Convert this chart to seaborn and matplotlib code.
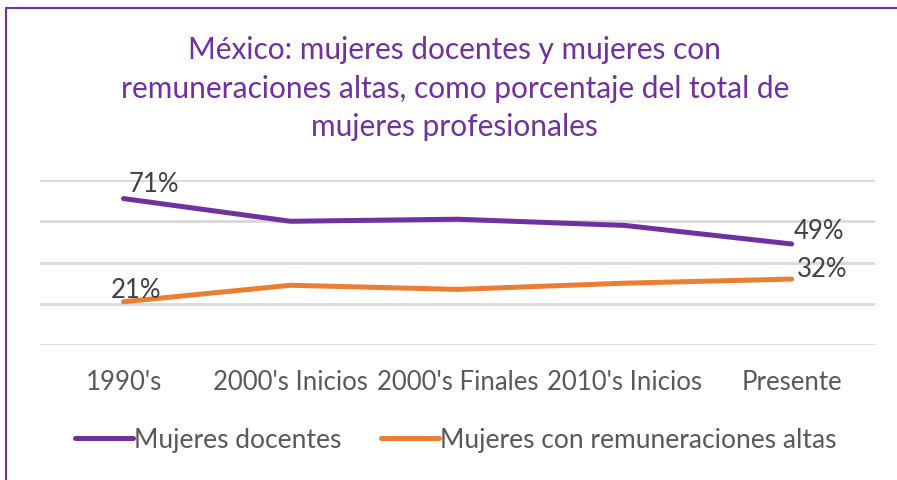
import numpy as np
import pandas as pd
import matplotlib.pyplot as plt
import seaborn as sns
from matplotlib.lines import Line2D

# data
periodos = ["1990's", "2000's Inicios", "2000's Finales", "2010's Inicios", "Presente"]
docentes = [71, 60, 61, 58, 49]
remuneraciones = [21, 29, 27, 30, 32]
series = ["Mujeres docentes", "Mujeres con remuneraciones altas"]

purple = "#7030A0"
orange = "#ED7D31"

sns.set_theme(style="white")
plt.rcParams['font.family'] = ['Lato', 'DejaVu Sans']

df = pd.DataFrame({"periodo": periodos * 2,
                   "valor": docentes + remuneraciones,
                   "serie": [series[0]] * 5 + [series[1]] * 5})

fig = plt.figure(figsize=(8.97, 4.8), dpi=100)
ax = fig.add_axes([0.0446, 0.281, 0.931, 0.344])

sns.lineplot(data=df, x="periodo", y="valor", hue="serie", sort=False,
             palette=[purple, orange], linewidth=3.6, ax=ax, legend=False)
for l in ax.lines:
    l.set_solid_capstyle("round")

ax.set_xlim(-0.5, 4.5)
ax.set_ylim(0, 80)
ax.set_yticks([0, 20, 40, 60, 80])
ax.yaxis.grid(True, color="#D9D9D9", linewidth=2)
ax.tick_params(axis='y', left=False, labelleft=False)
ax.tick_params(axis='x', labelsize=18.5, labelcolor="#595959", pad=18, length=0)
ax.set_xlabel("")
ax.set_ylabel("")
sns.despine(ax=ax, left=True, bottom=True)

# data labels
lab = dict(fontsize=18.5, color="#404040", textcoords="offset points")
ax.annotate("71%", (0, docentes[0]), xytext=(22, 1), ha="center", va="bottom", **lab)
ax.annotate("21%", (0, remuneraciones[0]), xytext=(9, -1), ha="center", va="bottom", **lab)
ax.annotate("49%", (4, docentes[4]), xytext=(20, 0), ha="center", va="bottom", **lab)
ax.annotate("32%", (4, remuneraciones[4]), xytext=(22, -2), ha="center", va="bottom", **lab)

fig.text(0.507, 0.815, "México: mujeres docentes y mujeres con\n"
         "remuneraciones altas, como porcentaje del total de\n"
         "mujeres profesionales", ha="center", va="center",
         fontsize=21.5, color=purple, linespacing=1.45)

handles = [Line2D([], [], color=purple, lw=3.6, solid_capstyle="round"),
           Line2D([], [], color=orange, lw=3.6, solid_capstyle="round")]
fig.legend(handles, series, loc="center", bbox_to_anchor=(0.508, 0.083), ncol=2,
           frameon=False, fontsize=19, labelcolor="#595959", handlelength=2.2,
           handletextpad=0.05, columnspacing=1.5)

# chart border (cropped frame)
fig.add_artist(Line2D([0.0067, 0.0067], [0, 0.983], color=purple, lw=1.5,
                      transform=fig.transFigure))
fig.add_artist(Line2D([0.0067, 1], [0.983, 0.983], color=purple, lw=1.5,
                      transform=fig.transFigure))

fig.savefig("out.png", dpi=100)
